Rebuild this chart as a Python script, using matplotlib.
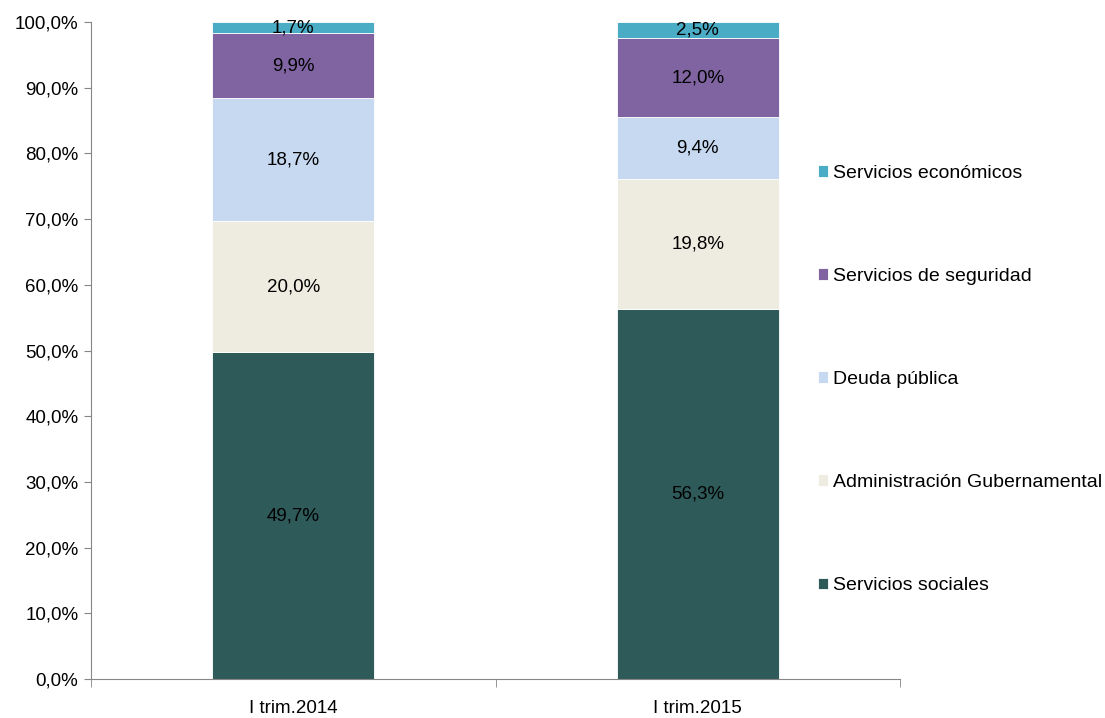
import matplotlib.pyplot as plt
import numpy as np

plt.rcParams['font.family'] = ['Liberation Sans', 'DejaVu Sans']

periods = ['I trim.2014', 'I trim.2015']
series = ['Servicios sociales', 'Administración Gubernamental', 'Deuda pública',
          'Servicios de seguridad', 'Servicios económicos']
sociales = [49.7, 56.3]
admin = [20.0, 19.8]
deuda = [18.7, 9.4]
seguridad = [9.9, 12.0]
economicos = [1.7, 2.5]
colors = ['#2E5A5A', '#EEECE1', '#C6D9F1', '#8064A2', '#4BACC6']

values = [sociales, admin, deuda, seguridad, economicos]

fig = plt.figure(figsize=(11.05, 7.18), dpi=100)
ax = fig.add_axes([91 / 1105, 1 - 679 / 718, 809 / 1105, 657 / 718])

x = np.arange(len(periods))
bottom = np.zeros(len(periods))
handles = []
for name, vals, col in zip(series, values, colors):
    vals = np.array(vals)
    b = ax.bar(x, vals, 0.4, bottom=bottom, color=col, label=name,
               edgecolor='white', linewidth=0.6)
    handles.append(b)
    for xi, v, bt in zip(x, vals, bottom):
        ax.text(xi, bt + v / 2, f'{v:.1f}%'.replace('.', ','),
                ha='center', va='center', fontsize=13.5, color='black')
    bottom += vals

ax.set_xlim(-0.5, 1.5)
ax.set_ylim(0, 100)
ax.set_yticks(np.arange(0, 101, 10))
ax.set_yticklabels([f'{v:.1f}%'.replace('.', ',') for v in np.arange(0, 101, 10)],
                   fontsize=13.5)
ax.set_xticks(x)
ax.set_xticklabels(periods, fontsize=13.5)
ax.set_xticks([-0.5, 0.5, 1.5], minor=True)
ax.tick_params(axis='x', which='major', length=0, pad=15)
ax.tick_params(axis='x', which='minor', length=6, color='#868686')
ax.tick_params(axis='y', length=5, color='#868686', pad=4)

for s in ['top', 'right']:
    ax.spines[s].set_visible(False)
for s in ['left', 'bottom']:
    ax.spines[s].set_color('#868686')

fig.legend(handles[::-1], series[::-1], loc='upper left',
           bbox_to_anchor=(810 / 1105, 1 - 157 / 718), frameon=False,
           fontsize=14, handlelength=0.55, handleheight=0.55, handletextpad=0.25,
           labelspacing=4.43, borderaxespad=0)

fig.savefig('out.png', dpi=100)
